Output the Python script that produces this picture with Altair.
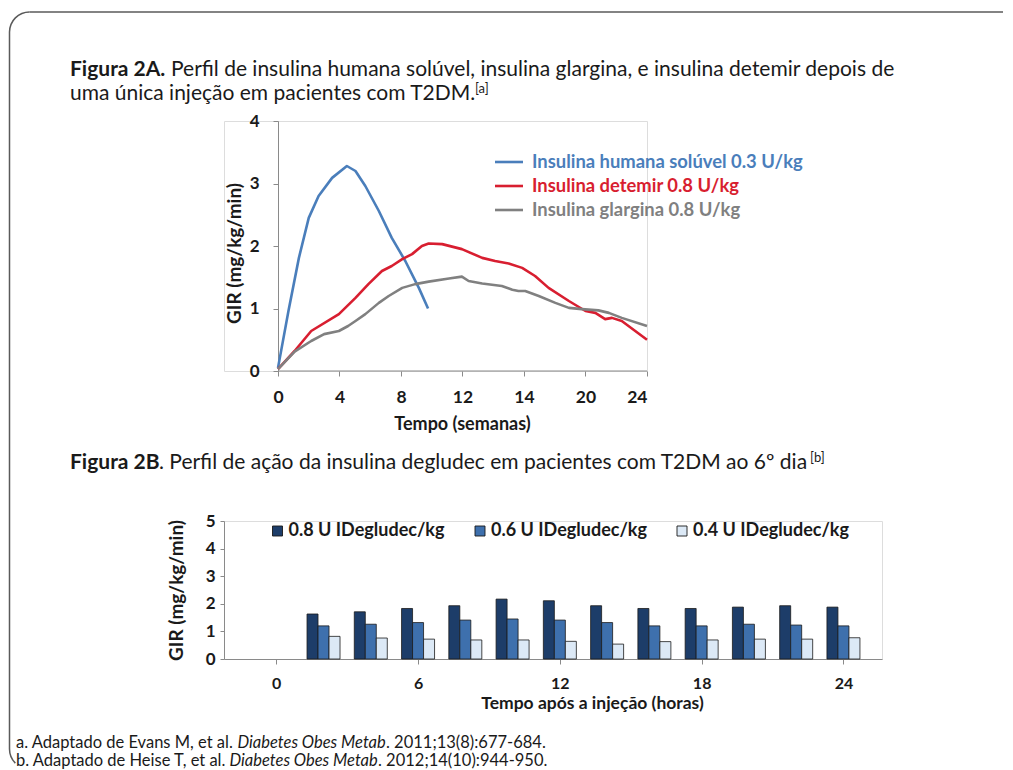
import json
import altair as alt
import pandas as pd

FONT = "Lato"

# ---------------- Figure 2A data ----------------
# x is the position along the 7 equally spaced ticks of the original axis
x_tick_labels = ["0", "4", "8", "12", "14", "20", "24"]
series_names = ["Insulina humana solúvel 0.3 U/kg", "Insulina detemir 0.8 U/kg", "Insulina glargina 0.8 U/kg"]
series_colors = ["#4a7ebb", "#d81e30", "#808080"]

blue_x = [0, 0.17, 0.34, 0.5, 0.66, 0.88, 1.12, 1.26, 1.42, 1.64, 1.85, 2.07, 2.29, 2.44]
blue_y = [0.05, 0.96, 1.81, 2.45, 2.8, 3.09, 3.28, 3.2, 2.96, 2.56, 2.13, 1.76, 1.33, 1.0]
red_x = [0, 0.27, 0.54, 0.99, 1.26, 1.47, 1.69, 1.85, 2.02, 2.18, 2.34, 2.45, 2.67, 2.99,
         3.32, 3.53, 3.75, 3.97, 4.18, 4.4, 4.73, 5.0, 5.16, 5.32, 5.43, 5.59, 6.0]
red_y = [0.03, 0.32, 0.64, 0.91, 1.17, 1.39, 1.6, 1.68, 1.79, 1.87, 2.0, 2.04, 2.03, 1.95,
         1.81, 1.76, 1.72, 1.65, 1.52, 1.33, 1.12, 0.96, 0.93, 0.83, 0.85, 0.8, 0.5]
gray_x = [0, 0.27, 0.54, 0.75, 0.99, 1.14, 1.26, 1.42, 1.64, 1.8, 2.02, 2.23, 2.45, 2.78, 2.99,
          3.1, 3.32, 3.64, 3.81, 3.91, 4.02, 4.24, 4.51, 4.73, 4.94, 5.21, 5.38, 5.59, 6.0]
gray_y = [0.03, 0.31, 0.48, 0.59, 0.64, 0.72, 0.8, 0.91, 1.09, 1.2, 1.33, 1.39, 1.43, 1.48, 1.51,
          1.44, 1.4, 1.36, 1.3, 1.28, 1.28, 1.2, 1.09, 1.01, 0.99, 0.97, 0.93, 0.85, 0.72]

# ---------------- Figure 2B data ----------------
hours = [2, 4, 6, 8, 10, 12, 14, 16, 18, 20, 22, 24]
dose_names = ["0.8 U IDegludec/kg", "0.6 U IDegludec/kg", "0.4 U IDegludec/kg"]
dose_colors = ["#1d3d69", "#3e70ad", "#dce9f6"]
gir_08 = [1.63, 1.71, 1.83, 1.93, 2.17, 2.11, 1.93, 1.83, 1.83, 1.88, 1.93, 1.88]
gir_06 = [1.2, 1.26, 1.32, 1.41, 1.45, 1.41, 1.32, 1.2, 1.2, 1.26, 1.23, 1.2]
gir_04 = [0.82, 0.76, 0.72, 0.69, 0.69, 0.64, 0.54, 0.63, 0.69, 0.72, 0.72, 0.77]

# ---------------- texts ----------------
title_a_bold = "Figura 2A."
title_a_rest = "Perfil de insulina humana solúvel, insulina glargina, e insulina detemir depois de"
title_a_line2 = "uma única injeção em pacientes com T2DM."
title_b_bold = "Figura 2B"
title_b_rest = ". Perfil de ação da  insulina degludec em pacientes com T2DM ao 6º dia"
ref_a = ["a. Adaptado de Evans M, et al.", "Diabetes Obes Metab", ". 2011;13(8):677-684."]
ref_b = ["b. Adaptado de Heise T, et al.", "Diabetes Obes Metab", ". 2012;14(10):944-950."]

AXIS_C = "#8a8a8a"
TXT_C = "#1a1a1a"
FRAME_C = "#5a5a5a"


def txt(s, x, y, size, weight="normal", style="normal", color=TXT_C, align="left", baseline="middle"):
    return alt.Chart(pd.DataFrame({"t": [s]})).mark_text(
        align=align, baseline=baseline, fontSize=size, fontWeight=weight,
        fontStyle=style, color=color, font=FONT
    ).encode(x=alt.value(x), y=alt.value(y), text="t:N")


def one():
    return alt.Chart(pd.DataFrame({"k": [0]}))


# ---------------- top panel ----------------
rows = []
for name, xs, ys in zip(series_names, [blue_x, red_x, gray_x], [blue_y, red_y, gray_y]):
    for i, (a, b) in enumerate(zip(xs, ys)):
        rows.append({"serie": name, "pos": a, "gir": b, "idx": i})
line_df = pd.DataFrame(rows)

W1, H1 = 423, 250
label_expr = json.dumps(x_tick_labels) + "[datum.value]"

lines = alt.Chart(line_df).mark_line(strokeWidth=2.6, strokeJoin="round").encode(
    x=alt.X("pos:Q", scale=alt.Scale(domain=[-0.878, 6], nice=False, zero=False),
            axis=alt.Axis(values=list(range(7)), labelExpr=label_expr, domain=False, grid=False,
                          title="Tempo (semanas)", titleX=238, titlePadding=10,
                          tickColor=AXIS_C, tickSize=5, labelPadding=12,
                          labelFont=FONT, labelFontSize=17.5, labelFontWeight="bold", labelColor=TXT_C,
                          titleFont=FONT, titleFontSize=18, titleFontWeight="bold", titleColor=TXT_C)),
    y=alt.Y("gir:Q", scale=alt.Scale(domain=[0, 4], nice=False),
            axis=alt.Axis(values=[0, 1, 2, 3, 4], offset=-54, grid=False, title="GIR (mg/kg/min)",
                          titleX=-34, titleY=132, domainColor=AXIS_C, tickColor=AXIS_C, tickSize=5,
                          labelPadding=14,
                          labelFont=FONT, labelFontSize=17, labelFontWeight="bold", labelColor=TXT_C,
                          titleFont=FONT, titleFontSize=19, titleFontWeight="bold", titleColor=TXT_C)),
    color=alt.Color("serie:N", scale=alt.Scale(domain=series_names, range=series_colors), legend=None),
    order="idx:Q",
)

# x axis line of the top chart (starts at the y axis, which is shifted right)
x_line = one().mark_rule(color=AXIS_C, strokeWidth=1.2).encode(
    x=alt.value(54), x2=alt.value(W1), y=alt.value(H1)
)

top_layers = [lines, x_line]

# legend for top chart
leg_y = [41, 65, 89]
for name, col, yy in zip(series_names, series_colors, leg_y):
    top_layers.append(
        one().mark_rule(color=col, strokeWidth=2.6).encode(
            x=alt.value(271), x2=alt.value(299), y=alt.value(yy))
    )
    top_layers.append(txt(name, 308, yy, 18.4, weight="bold", color=col))

# title
top_layers.append(txt(title_a_bold, -154, -51, 21, weight="bold"))
top_layers.append(txt(title_a_rest, -53, -51, 21))
top_layers.append(txt(title_a_line2, -154, -27, 21))
top_layers.append(txt("[a]", 251, -32, 13))

# frame (rounded corner border)
FL, FT, R = -214.5, -109, 20
top_layers.append(one().mark_rule(color=FRAME_C, strokeWidth=1.5).encode(
    x=alt.value(FL + R), x2=alt.value(779), y=alt.value(FT)))
top_layers.append(one().mark_rule(color=FRAME_C, strokeWidth=1.5).encode(
    x=alt.value(FL), y=alt.value(FT + R), y2=alt.value(628)))
top_layers.append(one().mark_arc(
    radius=R + 0.75, radius2=R - 0.75, theta=4.7124, theta2=6.2832, x=FL + R, y=FT + R
).encode(color=alt.value(FRAME_C)))
top_layers.append(one().mark_arc(
    radius=R + 0.75, radius2=R - 0.75, theta=3.927, theta2=4.7124, x=FL + R, y=628
).encode(color=alt.value(FRAME_C)))

top = alt.layer(*top_layers).properties(width=W1, height=H1)

# ---------------- bottom panel ----------------
brows = []
for name, vals in zip(dose_names, [gir_08, gir_06, gir_04]):
    for h, v in zip(hours, vals):
        brows.append({"dose": name, "hora": h, "gir": v})
bar_df = pd.DataFrame(brows)

W2, H2 = 658, 138
xb = alt.X("hora:Q", scale=alt.Scale(domain=[-2, 25.42], nice=False, zero=False),
           axis=alt.Axis(values=[0, 6, 12, 18, 24], grid=False, title="Tempo após a injeção (horas)",
                         titleX=368, titlePadding=3, domainColor=AXIS_C, tickColor=AXIS_C,
                         tickSize=5, labelPadding=11,
                         labelFont=FONT, labelFontSize=16, labelFontWeight="bold", labelColor=TXT_C,
                         titleFont=FONT, titleFontSize=17.5, titleFontWeight="bold", titleColor=TXT_C))
yb = alt.Y("gir:Q", scale=alt.Scale(domain=[0, 5], nice=False),
           axis=alt.Axis(values=[0, 1, 2, 3, 4, 5], grid=False, title="GIR (mg/kg/min)",
                         titleX=-38, titleY=69, domainColor=AXIS_C, tickColor=AXIS_C, tickSize=4,
                         labelPadding=5,
                         labelFont=FONT, labelFontSize=17, labelFontWeight="bold", labelColor=TXT_C,
                         titleFont=FONT, titleFontSize=19, titleFontWeight="bold", titleColor=TXT_C))
cb = alt.Color("dose:N", scale=alt.Scale(domain=dose_names, range=dose_colors), legend=None)

bot_layers = []
for name, off in zip(dose_names, [-11, 0, 11]):
    bot_layers.append(
        alt.Chart(bar_df).transform_filter(alt.datum.dose == name).mark_bar(
            size=11, xOffset=off, stroke="#1a1a1a", strokeWidth=0.8
        ).encode(x=xb, y=yb, color=cb)
    )

# legend for bottom chart
for name, col, sx in zip(dose_names, dose_colors, [53.5, 256, 458]):
    bot_layers.append(
        one().mark_point(
            shape="square", filled=True, size=100, stroke="#1a1a1a", strokeWidth=0.9, opacity=1
        ).encode(x=alt.value(sx), y=alt.value(10), color=alt.value(col))
    )
    bot_layers.append(txt(name, sx + 11, 10, 18, weight="bold"))

# title 2B
bot_layers.append(txt(title_b_bold, -154, -58, 21, weight="bold"))
bot_layers.append(txt(title_b_rest, -65, -58, 21))
bot_layers.append(txt("[b]", 586, -63, 13))

# references
for lineparts, yy, x1, x2, x3 in [(ref_a, 222, -208, 13.5, 162), (ref_b, 240, -208, 5.5, 154)]:
    bot_layers.append(txt(lineparts[0], x1, yy, 16.5))
    bot_layers.append(txt(lineparts[1], x2, yy, 16.5, style="italic"))
    bot_layers.append(txt(lineparts[2], x3, yy, 16.5))

bottom = alt.layer(*bot_layers).properties(width=W2, height=H2)

chart = alt.vconcat(top, bottom, spacing=150, bounds="flush").resolve_scale(
    color="independent"
).properties(
    padding={"left": 0, "top": 2, "right": 0, "bottom": 0}
).configure_view(strokeWidth=0).configure(font=FONT)

chart.save("out.html", embed_options={"renderer": "svg", "actions": False})
